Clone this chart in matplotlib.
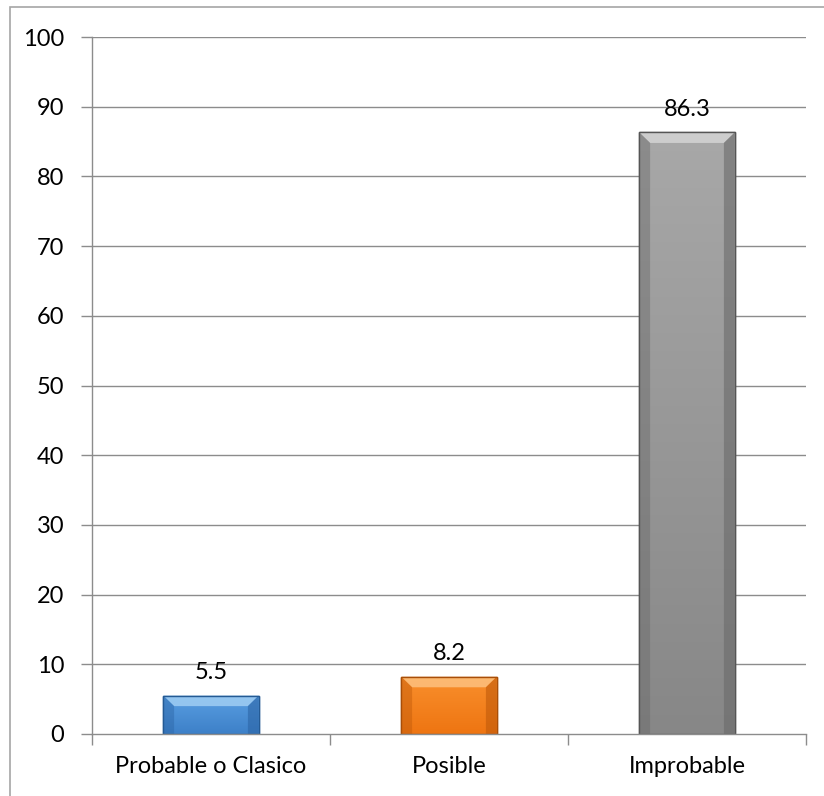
import numpy as np
import matplotlib.pyplot as plt
import matplotlib.patches as mpatches
from matplotlib.colors import LinearSegmentedColormap

plt.rcParams['font.family'] = ['Lato', 'DejaVu Sans']

categories = ["Probable o Clasico", "Posible", "Improbable"]
values = [5.5, 8.2, 86.3]
y_ticks = [0, 10, 20, 30, 40, 50, 60, 70, 80, 90, 100]

# face (top, bottom), bevel highlight, bevel shade, outline
styles = [
    ("#5A9FE2", "#3D80C8", "#9CCBF2", "#2C65A6", "#245A94"),
    ("#F98F2C", "#EE7512", "#FDBE7A", "#C05A0A", "#A84E08"),
    ("#A8A8A8", "#878787", "#D2D2D2", "#6A6A6A", "#555555"),
]

W, H = 824, 796
fig = plt.figure(figsize=(W / 100, H / 100), dpi=100)
ax = fig.add_axes([92 / W, 1 - 734 / H, (806 - 92) / W, (734 - 37) / H])

# outer chart frame
fig.add_artist(mpatches.Rectangle((10 / W, -0.1), 1.2, 1.1 - 7 / H,
                                  transform=fig.transFigure, fill=False,
                                  edgecolor="#A6A6A6", lw=1.2, zorder=0))

ax.set_xlim(-0.5, len(categories) - 0.5)
ax.set_ylim(0, 100)

for y in y_ticks[1:]:
    ax.axhline(y, color="#8C8C8C", lw=1.0, zorder=1)

bw = 0.4
bev_x = 0.045   # bevel width in x units
bev_y = 1.5     # bevel height in y units
x = np.arange(len(categories))
for xi, v, (c_top, c_bot, c_hi, c_sh, c_edge) in zip(x, values, styles):
    x0, x1 = xi - bw / 2, xi + bw / 2
    bar = ax.bar(xi, v, width=bw, color=c_bot, edgecolor=c_edge, lw=1.0, zorder=3)[0]
    cmap = LinearSegmentedColormap.from_list("f", [c_bot, c_top])
    grad = np.linspace(0, 1, 256).reshape(-1, 1)
    im = ax.imshow(grad, cmap=cmap, aspect="auto", origin="lower",
                   extent=(x0, x1, 0, v), zorder=3.1)
    im.set_clip_path(bar)
    by = min(bev_y, v * 0.3)
    # bevel: top highlight, side shading
    ax.add_patch(mpatches.Polygon([(x0, v), (x1, v), (x1 - bev_x, v - by), (x0 + bev_x, v - by)],
                                  closed=True, facecolor=c_hi, edgecolor="none", alpha=0.9, zorder=3.2))
    ax.add_patch(mpatches.Polygon([(x0, 0), (x0, v), (x0 + bev_x, v - by), (x0 + bev_x, 0)],
                                  closed=True, facecolor=c_sh, edgecolor="none", alpha=0.45, zorder=3.2))
    ax.add_patch(mpatches.Polygon([(x1, 0), (x1, v), (x1 - bev_x, v - by), (x1 - bev_x, 0)],
                                  closed=True, facecolor=c_sh, edgecolor="none", alpha=0.6, zorder=3.2))
    ax.add_patch(mpatches.Rectangle((x0, 0), bw, v, fill=False, edgecolor=c_edge, lw=1.0, zorder=3.3))
    ax.annotate(f"{v:.1f}", (xi, v), xytext=(0, 12), textcoords="offset points",
                ha="center", va="baseline", fontsize=17, color="black")

for s in ["top", "right"]:
    ax.spines[s].set_visible(False)
for s in ["left", "bottom"]:
    ax.spines[s].set_color("#8C8C8C")
    ax.spines[s].set_linewidth(1.0)
    ax.spines[s].set_zorder(5)

ax.set_yticks(y_ticks)
ax.tick_params(axis="y", direction="out", length=8, width=1.0, color="#8C8C8C",
               labelsize=17, pad=12)
ax.set_xticks(x)
ax.set_xticklabels(categories)
ax.set_xticks(np.arange(-0.5, len(categories)), minor=True)
ax.tick_params(axis="x", which="major", length=0, labelsize=17, pad=16)
ax.tick_params(axis="x", which="minor", direction="out", length=8, width=1.0, color="#8C8C8C")

fig.savefig("out.png", dpi=100)
